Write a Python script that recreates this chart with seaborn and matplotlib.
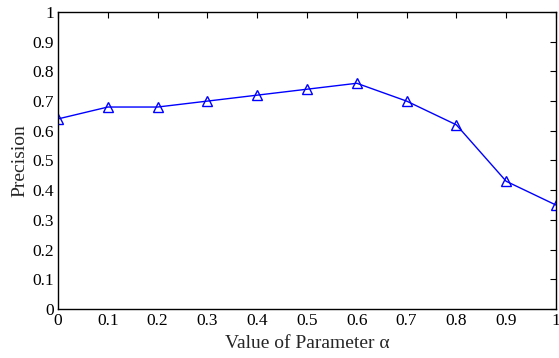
import numpy as np
import pandas as pd
import matplotlib
matplotlib.use("Agg")
import matplotlib.pyplot as plt
import seaborn as sns

alpha = [0.0, 0.1, 0.2, 0.3, 0.4, 0.5, 0.6, 0.7, 0.8, 0.9, 1.0]
precision = [0.64, 0.68, 0.68, 0.70, 0.72, 0.74, 0.76, 0.70, 0.62, 0.43, 0.35]
x_ticks = [0, 0.1, 0.2, 0.3, 0.4, 0.5, 0.6, 0.7, 0.8, 0.9, 1]
x_labels = ["0", "0.1", "0.2", "0.3", "0.4", "0.5", "0.6", "0.7", "0.8", "0.9", "1"]
y_ticks = [0, 0.1, 0.2, 0.3, 0.4, 0.5, 0.6, 0.7, 0.8, 0.9, 1]
y_labels = ["0", "0.1", "0.2", "0.3", "0.4", "0.5", "0.6", "0.7", "0.8", "0.9", "1"]

sns.set_style("white")
plt.rcParams["font.family"] = ["Liberation Serif", "DejaVu Serif"]

df = pd.DataFrame({"alpha": alpha, "precision": precision})

fig = plt.figure(figsize=(5.59, 3.58), dpi=100)
ax = fig.add_axes([0.1038, 0.1369, 0.8908, 0.8296])

sns.lineplot(data=df, x="alpha", y="precision", ax=ax, color="#0000ff",
             marker="^", markersize=7, markerfacecolor="none",
             markeredgecolor="#0000ff", markeredgewidth=1.0, linewidth=1.0)

ax.set_xlim(0, 1)
ax.set_ylim(0, 1)
ax.set_xticks(x_ticks)
ax.set_xticklabels(x_labels, fontsize=12.5)
ax.set_yticks(y_ticks)
ax.set_yticklabels(y_labels, fontsize=12.5)
ax.tick_params(direction="in", length=4, width=0.8, top=True, right=True,
               colors="black", pad=3)
for s in ax.spines.values():
    s.set_color("black")
    s.set_linewidth(1.0)

ax.set_xlabel("Value of Parameter α", fontsize=14, labelpad=4)
ax.set_ylabel("Precision", fontsize=14, labelpad=3)

fig.savefig("out.png", dpi=100)
